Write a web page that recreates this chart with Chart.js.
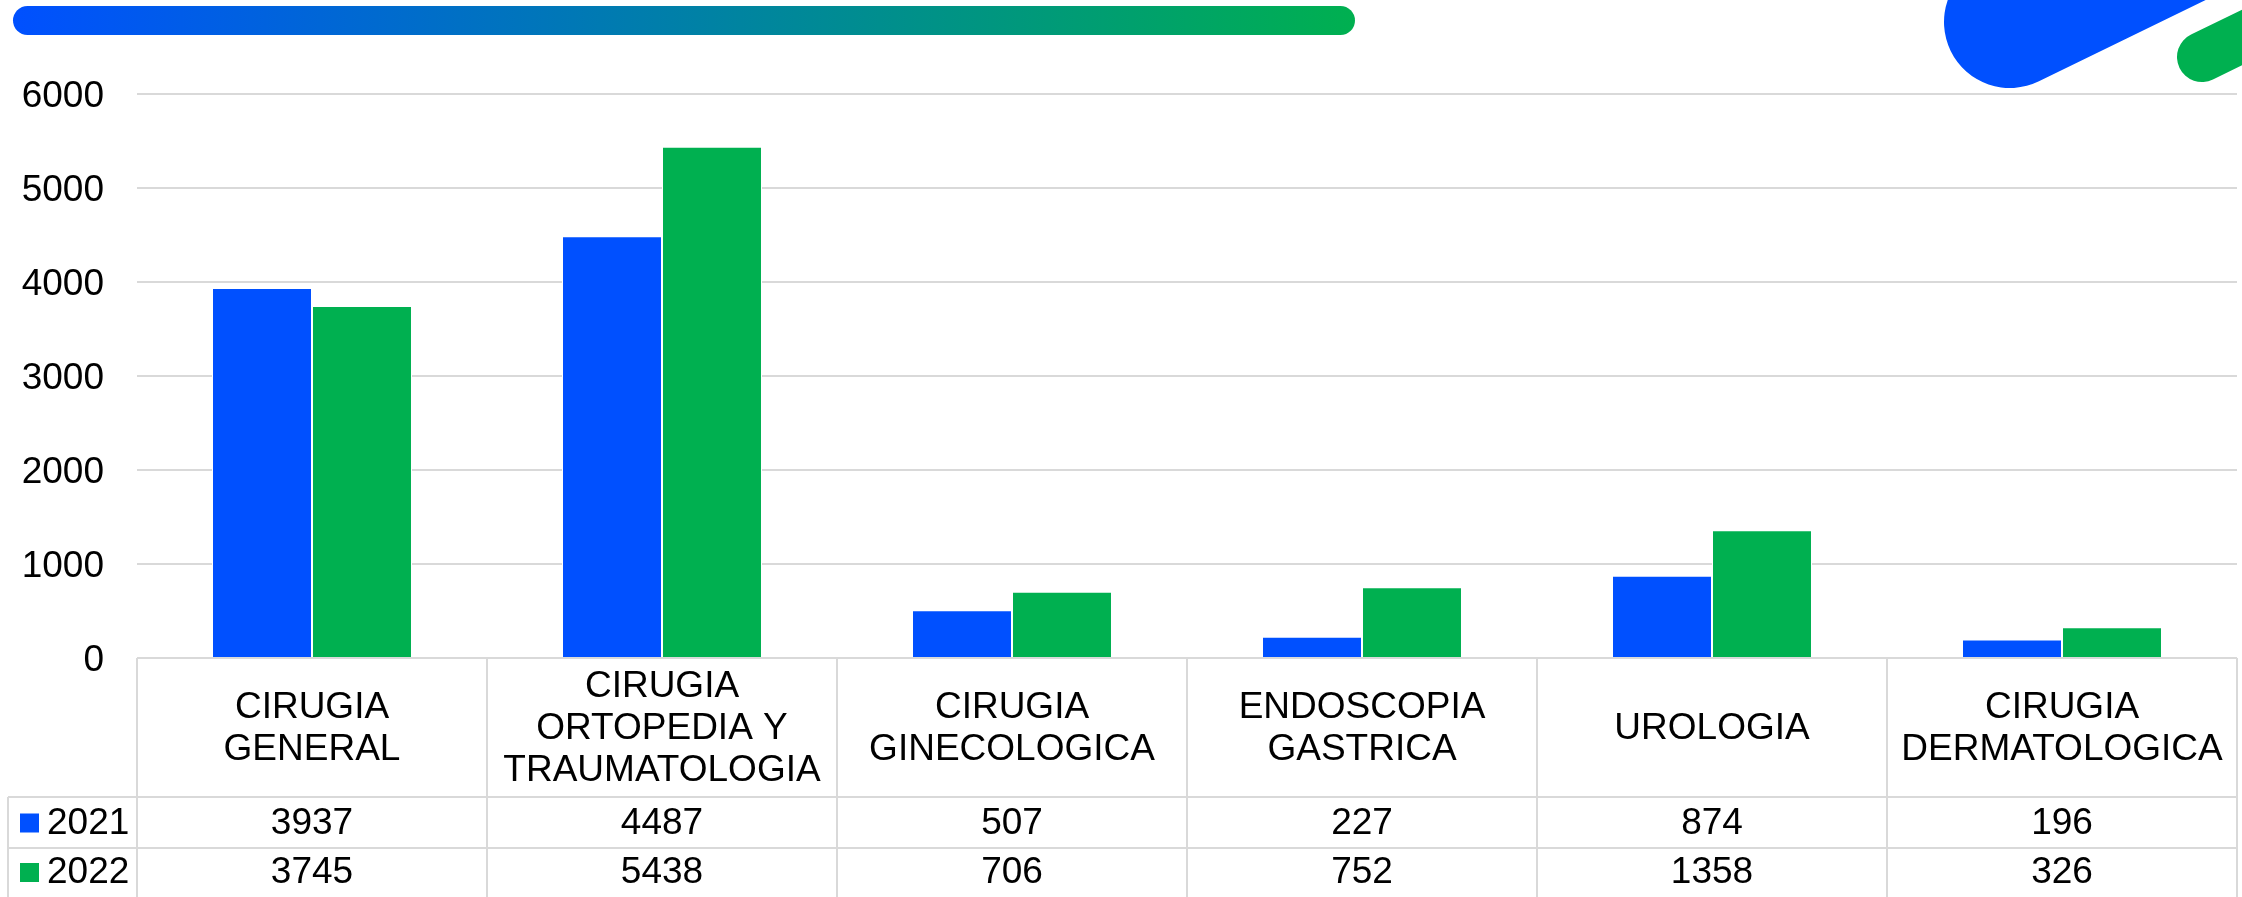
<!DOCTYPE html>
<html>
<head>
<meta charset="utf-8">
<script src="https://cdn.jsdelivr.net/npm/chart.js@4"></script>
<style>
  html, body { margin: 0; padding: 0; background: #ffffff; }
  #wrap { width: 2242px; height: 897px; position: relative; }
</style>
</head>
<body>
<div id="wrap"><canvas id="c" width="2242" height="897"></canvas></div>
<script>
// ---- data ----
const categories = [
  ["CIRUGIA", "GENERAL"],
  ["CIRUGIA", "ORTOPEDIA Y", "TRAUMATOLOGIA"],
  ["CIRUGIA", "GINECOLOGICA"],
  ["ENDOSCOPIA", "GASTRICA"],
  ["UROLOGIA"],
  ["CIRUGIA", "DERMATOLOGICA"]
];
const seriesNames = ["2021", "2022"];
const values2021 = [3937, 4487, 507, 227, 874, 196];
const values2022 = [3745, 5438, 706, 752, 1358, 326];
const yTicks = [0, 1000, 2000, 3000, 4000, 5000, 6000];

const BLUE = "#0050FF";
const GREEN = "#00B050";
const GRID = "#D9D9D9";
const FONT = '"Liberation Sans", Arial, sans-serif';

// decorative header shapes
const decorPlugin = {
  id: "decor",
  beforeDraw(chart) {
    const ctx = chart.ctx;
    ctx.save();
    const g = ctx.createLinearGradient(13, 0, 1355, 0);
    g.addColorStop(0, BLUE);
    g.addColorStop(1, GREEN);
    ctx.fillStyle = g;
    ctx.beginPath();
    ctx.roundRect(13, 6, 1342, 29, 14.5);
    ctx.fill();
    const a = -26 * Math.PI / 180;
    ctx.lineCap = "round";
    ctx.strokeStyle = BLUE;
    ctx.lineWidth = 132;
    ctx.beginPath();
    ctx.moveTo(2010, 22);
    ctx.lineTo(2010 + 600 * Math.cos(a), 22 + 600 * Math.sin(a));
    ctx.stroke();
    ctx.strokeStyle = GREEN;
    ctx.lineWidth = 50;
    ctx.beginPath();
    ctx.moveTo(2202, 57);
    ctx.lineTo(2202 + 300 * Math.cos(a), 57 + 300 * Math.sin(a));
    ctx.stroke();
    ctx.restore();
  }
};

// data table under the plot, positioned from the x scale
const tablePlugin = {
  id: "datatable",
  afterDraw(chart) {
    const ctx = chart.ctx;
    const xs = chart.scales.x;
    const area = chart.chartArea;
    const n = chart.data.labels.length;
    const colW = xs.width / n;
    const top = area.bottom;
    const headBottom = top + 139;
    const row1Bottom = headBottom + 51;
    const row2Bottom = row1Bottom + 50;
    const legLeft = 8;

    ctx.save();
    ctx.strokeStyle = GRID;
    ctx.lineWidth = 2;
    ctx.beginPath();
    ctx.moveTo(xs.left, top); ctx.lineTo(xs.right, top);
    ctx.moveTo(legLeft, headBottom); ctx.lineTo(xs.right, headBottom);
    ctx.moveTo(legLeft, row1Bottom); ctx.lineTo(xs.right, row1Bottom);
    ctx.moveTo(legLeft, row2Bottom); ctx.lineTo(xs.right, row2Bottom);
    for (let i = 0; i <= n; i++) {
      const x = xs.left + i * colW;
      ctx.moveTo(x, top); ctx.lineTo(x, row2Bottom);
    }
    ctx.moveTo(legLeft, headBottom); ctx.lineTo(legLeft, row2Bottom);
    ctx.stroke();

    ctx.fillStyle = "#000000";
    ctx.font = "37px " + FONT;
    ctx.textAlign = "center";
    ctx.textBaseline = "middle";
    const lh = 42;
    const headMid = (top + headBottom) / 2;
    chart.data.labels.forEach((lab, i) => {
      const cx = xs.getPixelForValue(i);
      const lines = Array.isArray(lab) ? lab : [lab];
      const y0 = headMid - (lines.length - 1) * lh / 2;
      lines.forEach((t, k) => ctx.fillText(t, cx, y0 + k * lh + 1));
    });
    const rows = [[headBottom, row1Bottom], [row1Bottom, row2Bottom - 2]];
    chart.data.datasets.forEach((ds, d) => {
      const ym = (rows[d][0] + rows[d][1]) / 2 + 1;
      ctx.textAlign = "center";
      ds.data.forEach((v, i) => ctx.fillText(String(v), xs.getPixelForValue(i), ym));
      ctx.fillStyle = ds.backgroundColor;
      ctx.fillRect(20, ym - 10, 19, 19);
      ctx.fillStyle = "#000000";
      ctx.textAlign = "left";
      ctx.fillText(ds.label, 47, ym);
    });
    ctx.restore();
  }
};

new Chart(document.getElementById("c"), {
  type: "bar",
  data: {
    labels: categories,
    datasets: [
      { label: seriesNames[0], data: values2021, backgroundColor: BLUE, borderColor: "#ffffff", borderWidth: 1 },
      { label: seriesNames[1], data: values2022, backgroundColor: GREEN, borderColor: "#ffffff", borderWidth: 1 }
    ]
  },
  options: {
    responsive: false,
    animation: false,
    layout: { padding: { top: 94, right: 5, bottom: 239, left: 0 } },
    plugins: { legend: { display: false }, tooltip: { enabled: true } },
    datasets: { bar: { categoryPercentage: 0.5714, barPercentage: 1.0 } },
    scales: {
      x: { display: false },
      y: {
        min: yTicks[0],
        max: yTicks[yTicks.length - 1],
        afterFit(scale) { scale.width = 137; },
        afterBuildTicks(scale) { scale.ticks = yTicks.map(v => ({ value: v })); },
        ticks: {
          padding: 33, labelOffset: 3, color: "#000000",
          font: { size: 37, family: FONT },
          callback: (v) => String(v)
        },
        grid: { color: GRID, lineWidth: 2, drawTicks: false },
        border: { display: false }
      }
    }
  },
  plugins: [decorPlugin, tablePlugin]
});
</script>
</body>
</html>
